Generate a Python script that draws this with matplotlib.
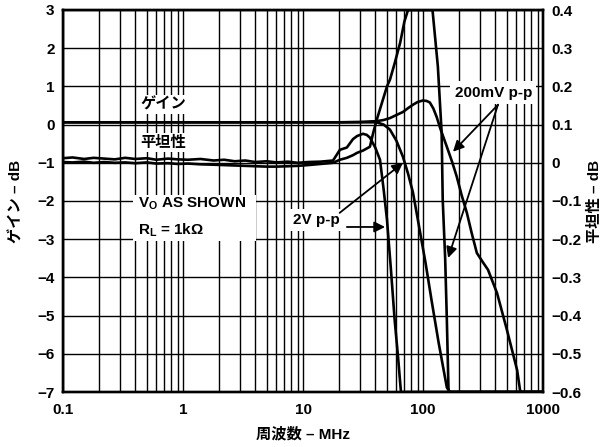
import matplotlib
matplotlib.use("Agg")
import matplotlib.pyplot as plt
import matplotlib.patches as mpatches
import numpy as np

plt.rcParams["font.family"] = ["Liberation Sans", "Noto Sans CJK JP", "DejaVu Sans"]
plt.rcParams["font.weight"] = "bold"
plt.rcParams["mathtext.fontset"] = "custom"
plt.rcParams["mathtext.rm"] = "Liberation Sans:bold"
plt.rcParams["mathtext.bf"] = "Liberation Sans:bold"
plt.rcParams["mathtext.it"] = "Liberation Sans:bold"

# ---------------- data ----------------
# gain, left axis (dB)
gain_200mv_f = [0.1, 1, 10, 20, 30, 41, 47, 53, 60, 68, 75, 82.5, 90, 99.5, 107,
                114, 122, 130, 140, 158, 175, 191, 210, 232, 255, 281, 315, 348,
                414, 501, 609, 644, 660, 1000]
gain_200mv_db = [0.06, 0.06, 0.06, 0.06, 0.07, 0.09, 0.12, 0.17, 0.25, 0.33, 0.43,
                 0.52, 0.59, 0.63, 0.62, 0.58, 0.42, 0.2, -0.12, -0.58, -0.98,
                 -1.36, -1.85, -2.31, -2.85, -3.36, -3.6, -3.8, -4.41, -5.38,
                 -6.43, -6.96, -7.0, -7.0]

gain_2v_f = [0.1, 1, 10, 20, 30, 41, 47, 53, 60, 68, 75, 82.5, 90.6, 105, 118,
             135, 158, 167, 1000]
gain_2v_db = [0.06, 0.06, 0.06, 0.06, 0.06, 0.06, 0.0, -0.13, -0.42, -0.84, -1.28,
              -1.78, -2.49, -3.62, -4.61, -5.71, -6.88, -7.0, -7.0]

# flatness, right axis (dB)
flat_f = [0.1, 0.12, 0.15, 0.18, 0.22, 0.27, 0.33, 0.4, 0.5, 0.6, 0.75, 0.9, 1.1,
          1.4, 1.8, 2.2, 2.7, 3.3, 4, 5, 6, 7.5, 9, 11, 14, 17.8]
flat_2v_low = [0.012, 0.014, 0.010, 0.013, 0.011, 0.009, 0.013, 0.010, 0.012,
               0.008, 0.011, 0.009, 0.008, 0.010, 0.006, 0.008, 0.004, 0.006,
               0.002, 0.004, 0.001, 0.003, 0.000, 0.002, 0.003, 0.006]
flat_200mv_low = [0.002, 0.001, 0.003, 0.000, 0.002, 0.000, 0.001, -0.001, 0.001,
                  -0.002, -0.001, -0.003, -0.002, -0.004, -0.005, -0.006, -0.007,
                  -0.008, -0.009, -0.010, -0.010, -0.009, -0.008, -0.006, -0.003,
                  0.000]

flat_2v_hf = [20.3, 23.2, 26.1, 28.2, 31.6, 34, 36.1, 40, 43.8, 47, 50.1, 54, 58,
              62, 65.5, 1000]
flat_2v_hv = [0.034, 0.040, 0.062, 0.070, 0.076, 0.073, 0.066, 0.040, 0.008,
              -0.07, -0.149, -0.278, -0.41, -0.51, -0.6, -0.6]

flat_200mv_hf = [20.3, 23.2, 26.1, 28.2, 31.6, 36.1, 38.5, 41.2, 46.4, 50.1, 53.1,
                 58, 64.6, 70, 75, 120, 133, 143, 146, 153, 158, 163, 165, 1000]
flat_200mv_hv = [0.008, 0.013, 0.020, 0.026, 0.032, 0.042, 0.079, 0.113, 0.166,
                 0.200, 0.218, 0.26, 0.315, 0.37, 0.4, 0.4, 0.252, 0.079, -0.097,
                 -0.25, -0.41, -0.59, -0.6, -0.6]

left_ticks = [3, 2, 1, 0, -1, -2, -3, -4, -5, -6, -7]
left_labels = ["3", "2", "1", "0", "\u22121", "\u22122", "\u22123", "\u22124",
               "\u22125", "\u22126", "\u22127"]
right_ticks = [0.4, 0.3, 0.2, 0.1, 0, -0.1, -0.2, -0.3, -0.4, -0.5, -0.6]
right_labels = ["0.4", "0.3", "0.2", "0.1", "0", "\u22120.1", "\u22120.2",
                "\u22120.3", "\u22120.4", "\u22120.5", "\u22120.6"]
x_ticks = [0.1, 1, 10, 100, 1000]
x_labels = ["0.1", "1", "10", "100", "1000"]

# ---------------- figure ----------------
W, H = 607, 447
fig = plt.figure(figsize=(W / 100, H / 100), dpi=100)
ax = fig.add_axes([63 / W, 55 / H, 480 / W, 382 / H])
ax2 = ax.twinx()

FS = 11
LW = 1.9

ax.set_xscale("log")
ax.set_xlim(0.1, 1000)
ax.set_ylim(-7, 3)
ax2.set_ylim(-0.6, 0.4)

minor = [m * 10.0 ** d for d in range(-1, 3) for m in range(2, 10)]
ax.set_xticks(x_ticks)
ax.set_xticklabels(x_labels, fontsize=FS, fontweight="bold")
ax.set_xticks(minor, minor=True)
ax.set_xticklabels([], minor=True)
ax.set_yticks(left_ticks)
ax.set_yticklabels(left_labels, fontsize=FS, fontweight="bold")
ax2.set_yticks(right_ticks)
ax2.set_yticklabels(right_labels, fontsize=FS, fontweight="bold")

ax.tick_params(axis="both", which="both", length=0)
ax.tick_params(axis="x", pad=8)
ax.tick_params(axis="y", pad=6)
ax2.tick_params(axis="y", length=0, pad=6)

ax.grid(True, which="both", color="black", linewidth=1.0)
ax.set_axisbelow(True)
for a in (ax, ax2):
    for s in a.spines.values():
        s.set_linewidth(1.7)

ax.set_xlabel("周波数 – MHz", fontsize=FS, fontweight="bold")
ax.xaxis.set_label_coords(0.5, -0.092)
ax.set_ylabel("ゲイン – dB", fontsize=FS, fontweight="bold")
ax.yaxis.set_label_coords(-0.082, 0.5)
ax2.set_ylabel("平坦性 – dB", fontsize=FS, fontweight="bold", rotation=90)
ax2.yaxis.set_label_coords(1.093, 0.5)

# curves
ax.plot(gain_200mv_f, gain_200mv_db, color="black", lw=LW, zorder=4)
ax.plot(gain_2v_f, gain_2v_db, color="black", lw=LW, zorder=4)
ax2.plot(flat_f + flat_2v_hf, flat_2v_low + flat_2v_hv, color="black", lw=LW)
ax2.plot(flat_f + flat_200mv_hf, flat_200mv_low + flat_200mv_hv, color="black",
         lw=LW)

# labels with white backgrounds
wb = dict(facecolor="white", edgecolor="none", pad=1.5)
ax.text(0.68, 0.52, "ゲイン", fontsize=FS, fontweight="bold", ha="center",
        va="center", bbox=wb, zorder=5)
ax.text(0.68, -0.47, "平坦性", fontsize=FS, fontweight="bold", ha="center",
        va="center", bbox=wb, zorder=5)

ax.add_patch(mpatches.Rectangle((0.383, -3.04), 4.05 - 0.383, 1.2,
                                facecolor="white", edgecolor="none", zorder=3))
ax.text(0.42, -2.07, r"$\mathbf{V_O}$ AS SHOWN", fontsize=FS, fontweight="bold",
        ha="left", va="center", zorder=5)
ax.text(0.42, -2.76, r"$\mathbf{R_L}$ = 1k$\mathbf{\Omega}$", fontsize=FS,
        fontweight="bold", ha="left", va="center", zorder=5)

ax.text(12.9, -2.49, "2V p-p", fontsize=FS, fontweight="bold", ha="center",
        va="center", bbox=dict(facecolor="white", edgecolor="none", pad=3),
        zorder=5)
ax.text(385, 0.84, "200mV p-p", fontsize=FS, fontweight="bold", ha="center",
        va="center", bbox=dict(facecolor="white", edgecolor="none", pad=3),
        zorder=5)

arrow = dict(arrowstyle="-|>", color="black", lw=1.3, mutation_scale=16,
             shrinkA=0, shrinkB=0)
ax.annotate("", xy=(177.8, -0.71), xytext=(421.7, 0.52), arrowprops=arrow,
            zorder=6)
ax.annotate("", xy=(162, -3.49), xytext=(421.7, 0.52), arrowprops=arrow,
            zorder=6)
ax.annotate("", xy=(68.1, -1.0), xytext=(20.2, -2.31), arrowprops=arrow,
            zorder=6)
ax.annotate("", xy=(48.3, -2.68), xytext=(23.2, -2.68), arrowprops=arrow,
            zorder=6)

fig.savefig("out.png", dpi=100)
